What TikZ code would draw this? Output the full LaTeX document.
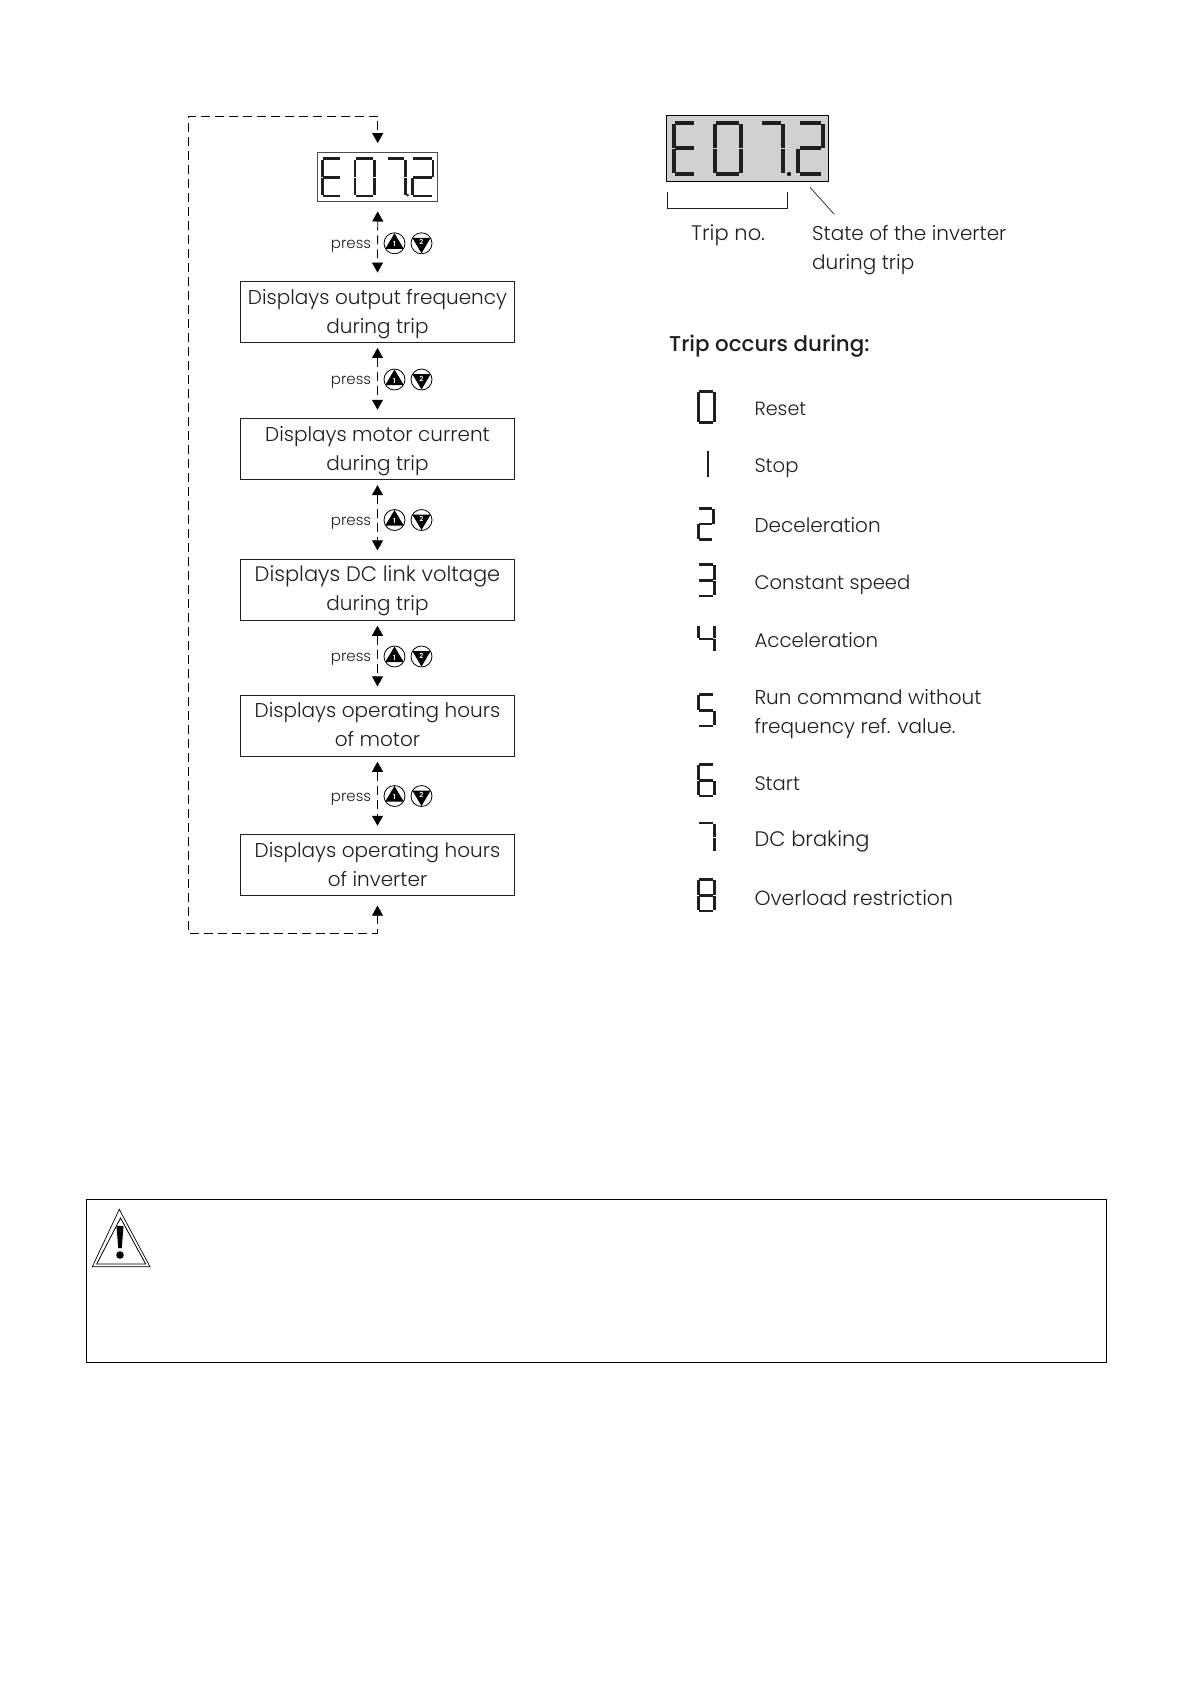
\documentclass[tikz,border=0pt]{standalone}
\usepackage{fontspec}
\setmainfont{Poppins Light}
\usetikzlibrary{arrows.meta}
\definecolor{ink}{gray}{0.12}
\newcommand{\bs}{\rule[-8pt]{0pt}{29pt}}
\newcommand{\fs}[2]{{\fontsize{#1}{29}\selectfont #2}}
\tikzset{
  x=1pt,y=-1pt,
  lbl/.style={anchor=base west,inner sep=0pt,text=ink,font=\fontsize{20}{29}\selectfont},
  msgbox/.style={draw=ink,line width=0.9pt,minimum width=274.4pt,minimum height=61pt,inner sep=0pt,align=center,text=ink,font=\fontsize{20}{29}\selectfont},
  dconn/.style={draw=black,line width=0.8pt,dash pattern=on 9pt off 5pt,{Triangle[length=10pt,width=11pt]}-{Triangle[length=10pt,width=11pt]}},
  presslbl/.style={inner sep=0pt,anchor=base,text=ink,font=\fontsize{15}{18}\selectfont},
  btncircle/.style={circle,draw=black,line width=0.8pt,minimum size=21pt,inner sep=0pt},
}
% seven segment digit: x,y (top left), w, h, line width, list name
\def\dE{a,d,e,f,g}\def\dzero{a,b,c,d,e,f}\def\done{b,c}\def\dtwo{a,b,d,e,g}\def\dthree{a,b,c,d,g}
\def\dfour{b,c,f,g}\def\dfive{a,c,d,f,g}\def\dsix{a,c,d,e,f,g}\def\dseven{a,b,c}\def\deight{a,b,c,d,e,f,g}
\newcommand{\sevseg}[6]{%
  \begin{scope}[shift={(#1,#2)},line width=#5pt,draw=ink]
    \pgfmathsetmacro{\wW}{#3}\pgfmathsetmacro{\hH}{#4}
    \pgfmathsetmacro{\mM}{\hH/2}\pgfmathsetmacro{\gG}{0.32*#5}
    \pgfmathsetmacro{\kK}{0.12*#5}
    \pgfmathsetmacro{\inn}{#5/2}
    \expandafter\let\expandafter\seglist\csname d#6\endcsname
    \foreach \s in \seglist {
      \ifx\s\segA\draw (\inn+\gG,\inn)--(\wW-\inn-\gG,\inn);\fi
      \ifx\s\segB\draw (\wW-\inn,\inn+\gG)--(\wW-\inn,\mM-\kK);\fi
      \ifx\s\segC\draw (\wW-\inn,\mM+\kK)--(\wW-\inn,\hH-\inn-\gG);\fi
      \ifx\s\segD\draw (\inn+\gG,\hH-\inn)--(\wW-\inn-\gG,\hH-\inn);\fi
      \ifx\s\segE\draw (\inn,\mM+\kK)--(\inn,\hH-\inn-\gG);\fi
      \ifx\s\segF\draw (\inn,\inn+\gG)--(\inn,\mM-\kK);\fi
      \ifx\s\segG\draw (\inn+\gG,\mM)--(\wW-\inn-\gG,\mM);\fi
    }
  \end{scope}}
\def\segA{a}\def\segB{b}\def\segC{c}\def\segD{d}\def\segE{e}\def\segF{f}\def\segG{g}
\newcommand{\pressrow}[2]{% name, y
  \node[presslbl] (#1p) at (351,#2+5) {press};
  \node[btncircle] (#1u) at (394.5,#2) {};
  \node[btncircle] (#1d) at (421.5,#2) {};
  \fill[black] (394.5,#2-10)--(403.7,#2+5.5)--(385.3,#2+5.5)--cycle;
  \fill[black] (421.5,#2+10)--(430.7,#2-5.5)--(412.3,#2-5.5)--cycle;
  \node[inner sep=0pt,text=white,font=\fontsize{7}{8}\bfseries\selectfont] at (394.5,#2+1) {1};
  \node[inner sep=0pt,text=white,font=\fontsize{7}{8}\bfseries\selectfont] at (421.5,#2-1) {2};
}
\begin{document}
\begin{tikzpicture}
\useasboundingbox (0,0) rectangle (1190,1684);
\fill[white] (0,0) rectangle (1190,1684);
% left LCD
\node[draw=black!70,line width=1.4pt,minimum width=120pt,minimum height=49pt,inner sep=0pt] (lcd) at (377.7,176.8) {};
\sevseg{321.2}{157.3}{21}{40}{2.8}{E}
\sevseg{353.5}{157.3}{22}{40}{2.8}{zero}
\sevseg{386}{157.3}{20.5}{40}{2.8}{seven}
\fill[ink] (407.7,195.3) circle (1.4);
\sevseg{411}{157.3}{23.3}{40}{2.8}{two}
% boxes
\node[msgbox] (b1) at (377.5,312) {\bs Displays output frequency\\\bs during trip};
\node[msgbox] (b2) at (377.5,449.2) {\bs Displays motor current\\\bs during trip};
\node[msgbox] (b3) at (377.5,589.8) {\bs\fs{21}{Displays DC link voltage}\\\bs during trip};
\node[msgbox] (b4) at (377.5,725.8) {\bs Displays operating hours\\\bs of motor};
\node[msgbox] (b5) at (377.5,865.2) {\bs Displays operating hours\\\bs of inverter};
% connectors
\draw[dconn] ([yshift=-9.5pt]lcd.south) -- ([yshift=8.5pt]b1.north);
\draw[dconn] ([yshift=-5pt]b1.south) -- ([yshift=8.5pt]b2.north);
\draw[dconn] ([yshift=-5pt]b2.south) -- ([yshift=8.5pt]b3.north);
\draw[dconn] ([yshift=-5pt]b3.south) -- ([yshift=8.5pt]b4.north);
\draw[dconn] ([yshift=-5pt]b4.south) -- ([yshift=8.5pt]b5.north);
\coordinate (loopBL) at (188.3,933);
\coordinate (loopTL) at (188.3,116);
\draw[dconn] ([yshift=-9.5pt]b5.south) -- (b5.south |- loopBL) -- (loopBL) -- (loopTL) -- (lcd.north |- loopTL) -- ([yshift=8.5pt]lcd.north);
\pressrow{r1}{243.3}
\pressrow{r2}{379.5}
\pressrow{r3}{520}
\pressrow{r4}{656.5}
\pressrow{r5}{796}
% right LCD
\node[draw=black,fill=black!18,line width=1pt,minimum width=162.2pt,minimum height=66.4pt,inner sep=0pt] (lcdb) at (747.6,148.5) {};
\sevseg{671.5}{120.7}{25.7}{55.3}{4.2}{E}
\sevseg{712.8}{120.7}{30}{55.3}{4.2}{zero}
\sevseg{758.5}{120.7}{26.3}{55.3}{4.2}{seven}
\fill[ink] (789,174) circle (2.2);
\sevseg{796.2}{120.7}{28.6}{55.3}{4.2}{two}
\draw[line width=0.9pt,draw=ink] (667.3,192)--(667.3,208.3)--(787.3,208.3)--(787.3,192);
\draw[line width=0.7pt,draw=ink] (810,187.3)--(834,214);
\node[lbl] (tn) at (691,240) {\fs{21}{Trip no.}};
\node[lbl] (st) at (812,240) {State of the inverter};
\node[lbl] (st2) at (812,269.3) {during trip};
\node[lbl,font=\fontsize{21.4}{29}\fontspec{Poppins Medium}] (occ) at (669,351.7) {Trip occurs during:};
% list
\sevseg{697}{390}{18.6}{34}{2.6}{zero}
\node[lbl] (l0) at (754.3,415.7) {\fs{19.2}{Reset}};
\sevseg{697}{449.3}{12.4}{29.4}{2.6}{one}
\node[lbl] (l1) at (754.3,472.7) {\fs{19.6}{Stop}};
\sevseg{697}{507.3}{17.5}{33.4}{2.6}{two}
\node[lbl] (l2) at (754.3,532.7) {Deceleration};
\sevseg{697}{563.3}{18.6}{34}{2.6}{three}
\node[lbl] (l3) at (754.3,589.3) {\fs{19.6}{Constant speed}};
\sevseg{697}{624.3}{18.6}{29}{2.6}{four}
\node[lbl] (l4) at (754.3,647.7) {\fs{19.8}{Acceleration}};
\sevseg{697}{693.3}{18.6}{34}{2.6}{five}
\node[lbl] (l5) at (754.3,704.3) {Run command without};
\node[lbl] (l5b) at (754.3,733.3) {frequency ref. value.};
\sevseg{697}{763.3}{18.6}{34}{2.6}{six}
\node[lbl] (l6) at (754.3,790) {\fs{19.6}{Start}};
\sevseg{697}{821.7}{18.6}{31.6}{2.6}{seven}
\node[lbl] (l7) at (754.3,846.7) {\fs{21}{DC braking}};
\sevseg{697}{878.3}{18.6}{34}{2.6}{eight}
\node[lbl] (l8) at (754.3,905) {\fs{20.4}{Overload restriction}};
% warning
\draw[draw=black,line width=1pt] (86,1199.3) rectangle (1106,1362.3);
\draw[line width=0.7pt,line join=miter] (119.3,1209.3)--(150,1266.7)--(92.3,1266.7)--cycle;
\draw[line width=0.8pt] (120.5,1218)--(145.7,1264)--(96.7,1264)--cycle;
\fill[black] (116.5,1226)--(123.5,1226)--(121.8,1248)--(118.2,1248)--cycle;
\fill[black] (120,1255) circle (3.8);
\end{tikzpicture}
\end{document}
